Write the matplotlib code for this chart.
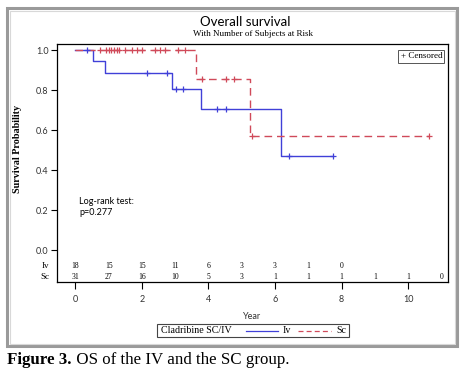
import matplotlib
matplotlib.use("Agg")
import matplotlib.pyplot as plt
from matplotlib.lines import Line2D
from matplotlib.patches import Rectangle

# ---- data ----
iv_step_times = [0, 0.52, 0.90, 2.91, 3.77, 6.18, 7.74]
iv_step_surv = [1.0, 0.944, 0.885, 0.805, 0.704, 0.469, 0.469]
iv_cens_times = [0.36, 2.15, 2.77, 3.04, 3.24, 4.25, 4.52, 6.41, 7.74]
iv_cens_surv = [1.0, 0.885, 0.885, 0.805, 0.805, 0.704, 0.704, 0.469, 0.469]

sc_step_times = [0, 3.64, 5.24, 10.63]
sc_step_surv = [1.0, 0.857, 0.571, 0.571]
sc_cens_times = [0.74, 0.92, 1.0, 1.08, 1.16, 1.24, 1.32, 1.49, 1.69, 1.84, 1.99,
                 2.39, 2.54, 2.69, 3.09, 3.30, 3.81, 4.54, 4.77, 5.32, 10.63]
sc_cens_surv = [1.0] * 16 + [0.857, 0.857, 0.857, 0.571, 0.571]

risk_years = [0, 1, 2, 3, 4, 5, 6, 7, 8, 9, 10, 11]
iv_at_risk = [18, 15, 15, 11, 6, 3, 3, 1, 0]
sc_at_risk = [31, 27, 16, 10, 5, 3, 1, 1, 1, 1, 1, 0]

x_ticks = [0, 2, 4, 6, 8, 10]
y_ticks = [0.0, 0.2, 0.4, 0.6, 0.8, 1.0]

title = "Overall survival"
subtitle = "With Number of Subjects at Risk"
caption_bold = "Figure 3."
caption_rest = " OS of the IV and the SC group."

BLUE = "#4040d8"
RED = "#d04a5a"
SERIF = "Liberation Serif"
SANS = "Lato"

W, H = 466, 376
fig = plt.figure(figsize=(W / 100, H / 100), dpi=100)
fig.patch.set_facecolor("white")

def px(x, y):
    return (x / W, 1 - y / H)

# outer gray frame
fig.patches.append(Rectangle(px(7, 346), (457 - 7) / W, (346 - 8) / H,
                             transform=fig.transFigure, fill=False,
                             edgecolor="#9a9a9a", linewidth=2.2))
fig.patches.append(Rectangle(px(9.5, 343.5), (454.5 - 9.5) / W, (343.5 - 10.5) / H,
                             transform=fig.transFigure, fill=False,
                             edgecolor="#d8d8d8", linewidth=0.8))

ax = fig.add_axes([57 / W, 1 - 282 / H, (448 - 57) / W, (282 - 44) / H])
ax.set_xlim(-0.55, 11.2)
ax.set_ylim(-0.16, 1.03)

ax.step(iv_step_times, iv_step_surv, where="post", color=BLUE, lw=1.0)
ax.step(sc_step_times, sc_step_surv, where="post", color=RED, lw=1.0,
        linestyle=(0, (5.5, 3.5)))
ax.plot(iv_cens_times, iv_cens_surv, linestyle="none", marker="+", ms=4.5,
        mew=0.9, color=BLUE)
ax.plot(sc_cens_times, sc_cens_surv, linestyle="none", marker="+", ms=4.5,
        mew=0.9, color=RED)

# y axis
ax.set_yticks(y_ticks)
ax.set_yticklabels([f"{v:.1f}" for v in y_ticks], fontsize=6.5,
                   family=SANS, color="#333333")
ax.tick_params(axis="y", direction="out", length=4, width=0.8, pad=2)
ax.set_ylabel("Survival Probability", family=SERIF, fontsize=7.3,
              weight="bold")
ax.yaxis.set_label_coords((22 - 57) / (448 - 57), (282 - 149) / (282 - 44))

# x axis
ax.set_xticks(x_ticks)
ax.set_xticklabels([str(v) for v in x_ticks], fontsize=6.5, family=SANS,
                   color="#333333")
ax.tick_params(axis="x", direction="out", length=5, width=0.8, pad=4)
ax.set_xlabel("Year", family=SANS, fontsize=6.5, labelpad=6, color="#333333")

for s in ax.spines.values():
    s.set_linewidth(0.9)

# at-risk table
for yr, n in zip(risk_years, iv_at_risk):
    ax.text(yr, -0.079, str(n), ha="center", va="center", fontsize=5.5,
            family=SERIF)
for yr, n in zip(risk_years, sc_at_risk):
    ax.text(yr, -0.135, str(n), ha="center", va="center", fontsize=5.5,
            family=SERIF)
ax.text(-0.02, -0.079, "Iv", transform=ax.get_yaxis_transform(), ha="right",
        va="center", fontsize=6.5, family=SERIF)
ax.text(-0.02, -0.135, "Sc", transform=ax.get_yaxis_transform(), ha="right",
        va="center", fontsize=6.5, family=SERIF)

# log-rank
ax.text(0.11, 0.215, "Log-rank test:\np=0.277", fontsize=6.5, family=SANS,
        va="center", ha="left", linespacing=1.4)

# censored box
ax.text(0.985, 0.965, "+ Censored", transform=ax.transAxes, ha="right",
        va="top", fontsize=6.5, family=SERIF,
        bbox=dict(boxstyle="square,pad=0.25", fc="white", ec="#555555",
                  lw=0.7))

# titles
fig.text(*px(245, 22), title, ha="center", va="center", fontsize=9.5,
         family=SANS)
fig.text(*px(253, 34), subtitle, ha="center", va="center", fontsize=6.5,
         family=SERIF)

# bottom legend
fig.patches.append(Rectangle(px(157, 337), (349 - 157) / W, (337 - 324) / H,
                             transform=fig.transFigure, fill=False,
                             edgecolor="#444444", linewidth=0.8))
fig.text(*px(161, 330.5), "Cladribine SC/IV", ha="left", va="center",
         fontsize=7.2, family=SERIF)
fig.lines.append(Line2D([245.7 / W, 277.7 / W], [1 - 330.5 / H] * 2,
                        transform=fig.transFigure, color=BLUE, lw=0.9))
fig.text(*px(282.7, 330.5), "Iv", ha="left", va="center", fontsize=7.2,
         family=SERIF)
fig.lines.append(Line2D([297.7 / W, 331 / W], [1 - 330.5 / H] * 2,
                        transform=fig.transFigure, color=RED, lw=0.9,
                        linestyle=(0, (4, 2.5))))
fig.text(*px(336, 330.5), "Sc", ha="left", va="center", fontsize=7.2,
         family=SERIF)

# caption
t1 = fig.text(*px(7, 360), caption_bold, ha="left", va="center",
              fontsize=12.2, family=SERIF, weight="bold")
fig.canvas.draw()
bb = t1.get_window_extent()
fig.text(bb.x1 / W, 1 - 360 / H, caption_rest, ha="left", va="center",
         fontsize=12.2, family=SERIF)

fig.savefig("out.png", dpi=100)
